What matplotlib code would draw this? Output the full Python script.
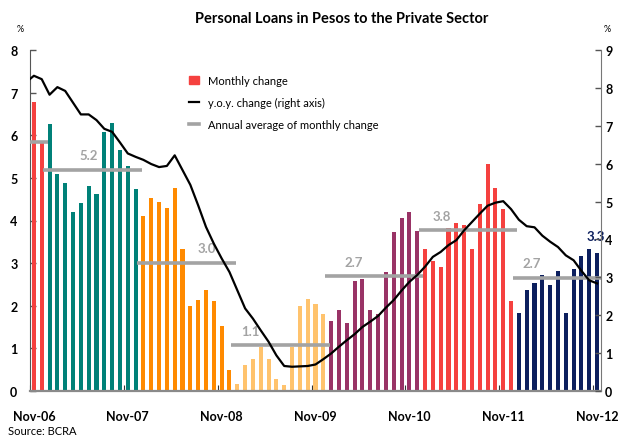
import pandas as pd
import matplotlib
matplotlib.use("Agg")
import matplotlib.pyplot as plt
from matplotlib.patches import Patch
from matplotlib.lines import Line2D

plt.rcParams["font.family"] = ["Lato", "DejaVu Sans"]

# Data (monthly, Nov-06 .. Nov-12)
months = pd.date_range("2006-11-01", "2012-11-01", freq="MS")

monthly_change = [
    6.79, 5.87,
    6.26, 5.09, 4.88, 4.19, 4.40, 4.82, 4.63, 6.08, 6.29, 5.66, 5.28, 4.74,
    4.11, 4.53, 4.44, 4.30, 4.76, 3.34, 2.00, 2.13, 2.38, 2.10, 1.53, 0.50,
    0.16, 0.60, 0.76, 1.03, 0.76, 0.29, 0.13, 1.03, 2.00, 2.17, 2.03, 1.81,
    1.65, 1.91, 1.60, 2.59, 2.63, 1.90, 1.80, 2.79, 3.73, 4.06, 4.21, 3.76,
    3.34, 3.06, 2.92, 3.83, 3.95, 3.90, 3.34, 4.39, 5.33, 4.77, 4.27, 2.10,
    1.84, 2.38, 2.54, 2.73, 2.49, 2.82, 1.84, 2.87, 3.17, 3.34, 3.24,
]

# y.o.y. change, starting one month earlier (Oct-06)
yoy_change = [
    8.15,
    8.32, 8.23,
    7.82, 8.02, 7.92, 7.61, 7.30, 7.30, 7.15, 6.92, 6.84, 6.56, 6.27, 6.18,
    6.10, 5.99, 5.91, 5.94, 6.22, 5.83, 5.44, 4.90, 4.33, 3.89, 3.50, 3.14,
    2.66, 2.18, 1.91, 1.60, 1.30, 0.94, 0.66, 0.64, 0.65, 0.66, 0.70, 0.84,
    0.99, 1.17, 1.34, 1.50, 1.69, 1.83, 1.98, 2.20, 2.40, 2.65, 2.88, 3.06,
    3.28, 3.54, 3.67, 3.85, 3.98, 4.24, 4.46, 4.68, 4.89, 4.97, 5.01, 4.80,
    4.52, 4.35, 4.32, 4.10, 3.94, 3.80, 3.58, 3.45, 3.17, 2.92, 2.84,
]

years = [2006, 2007, 2008, 2009, 2010, 2011, 2012]
annual_avg = [5.83, 5.19, 3.01, 1.07, 2.70, 3.77, 2.66]
avg_labels = ["", "5.2", "3.0", "1.1", "2.7", "3.8", "2.7"]
year_colors = ["#f5413f", "#008178", "#ff8a00", "#ffc36d", "#993366", "#f5413f", "#0c1f5e"]

tick_labels = ["Nov-06", "Nov-07", "Nov-08", "Nov-09", "Nov-10", "Nov-11", "Nov-12"]

# label placement (months after the year's first bar)
label_offsets = [0, 5.5, 8.6, 2.2, 3.4, 2.7, 2.2]

x = [i + 0.5 for i in range(len(months))]
color_of = dict(zip(years, year_colors))
bar_colors = [color_of[d.year] for d in months]

fig = plt.figure(figsize=(6.18, 4.39), dpi=100)
ax = fig.add_axes([30 / 618, 47 / 439, 571 / 618, 341 / 439])
ax2 = ax.twinx()

ax.bar(x, monthly_change, width=0.52, color=bar_colors, zorder=2)

# annual averages
for yr, avg, lab, off in zip(years, annual_avg, avg_labels, label_offsets):
    idx = [i for i, d in enumerate(months) if d.year == yr]
    start, end = idx[0], idx[-1] + 1
    ax.plot([start - 0.3, min(end + 0.3, len(months))], [avg, avg],
            color="#a3a3a3", lw=2.6, solid_capstyle="butt", zorder=3)
    if lab:
        ax.annotate(lab, (start + off, avg), xytext=(0, 6), textcoords="offset points",
                    ha="center", va="bottom", fontsize=9.5, fontweight="bold",
                    color="#a3a3a3", zorder=4)

ax.text(72.3, 3.64, "3.3", ha="center", va="center", fontsize=9.5,
        fontweight="bold", color="#0c1f5e", clip_on=False, zorder=5)

yoy_x = [i - 0.5 for i in range(len(yoy_change))]
ax2.plot(yoy_x, yoy_change, color="black", lw=1.6, zorder=3)

ax.set_xlim(0, len(months))
ax.set_ylim(0, 8)
ax2.set_ylim(0, 9)
ax.set_yticks(range(0, 9))
ax2.set_yticks(range(0, 10))

ax.set_xticks(range(0, len(months), 12))
ax.set_xticklabels([])
ax.set_xticks([i + 0.5 for i in range(0, len(months), 12)], minor=True)
ax.set_xticklabels(tick_labels, minor=True)
ax.tick_params(axis="x", which="major", direction="in", length=4, color="#333333")
ax.tick_params(axis="x", which="minor", length=0, pad=14)

ax.tick_params(axis="y", direction="in", length=4, width=1, color="#555555", pad=9)
ax2.tick_params(axis="y", direction="in", length=4, width=1, color="#555555", pad=3)
for a in (ax, ax2):
    a.spines["top"].set_visible(False)
    for lbl in a.get_yticklabels() + a.get_xticklabels(minor=True):
        lbl.set_fontweight("bold")
        lbl.set_fontsize(9)
ax.spines["right"].set_visible(False)
ax2.spines["left"].set_visible(False)
ax2.spines["bottom"].set_visible(False)
ax.spines["left"].set_color("#555555")
ax2.spines["right"].set_color("#777777")
ax.spines["bottom"].set_color("#8a8a8a")
ax.spines["bottom"].set_linewidth(1.6)

handles = [Patch(color="#f5413f"),
           Line2D([], [], color="black", lw=1.6),
           Line2D([], [], color="#a3a3a3", lw=2.6)]
labels = ["Monthly change", "y.o.y. change (right axis)", "Annual average of monthly change"]
ax2.legend(handles, labels, loc="upper left", bbox_to_anchor=(189 / 618, 1 - 76 / 439),
           bbox_transform=fig.transFigure, frameon=False, fontsize=8,
           handlelength=0.9, handletextpad=0.8, labelspacing=1.0, borderpad=0,
           borderaxespad=0)

fig.text(342 / 618, 1 - 19 / 439, "Personal Loans in Pesos to the Private Sector",
         ha="center", va="center", fontsize=10.5, fontweight="bold")
fig.text(20 / 618, 1 - 29 / 439, "%", ha="center", va="center", fontsize=6.5)
fig.text(607 / 618, 1 - 29 / 439, "%", ha="center", va="center", fontsize=6.5)
fig.text(8 / 618, 2 / 439, "Source: BCRA", ha="left", va="bottom", fontsize=8)

fig.savefig("out.png", dpi=100)
